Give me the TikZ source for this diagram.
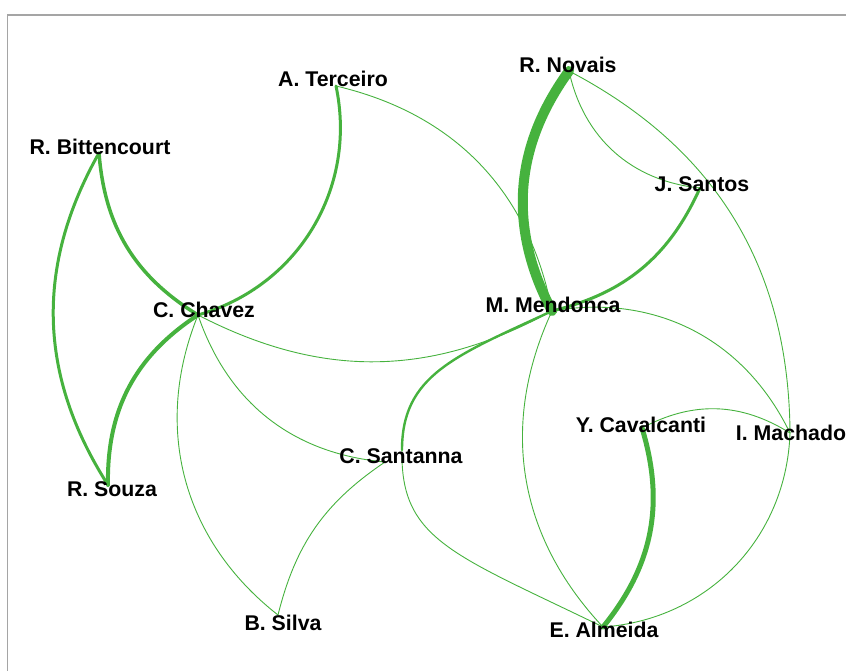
\documentclass[tikz,border=0pt]{standalone}
\usepackage{fontspec}
\setmainfont{Liberation Sans}
\definecolor{eg}{RGB}{70,178,62}
\definecolor{framegray}{RGB}{165,165,165}
\begin{document}
\begin{tikzpicture}[x=1pt,y=-1pt,
  lab/.style={font=\fontsize{21.3}{24}\selectfont\bfseries, anchor=base, inner sep=0pt, text=black},
  ed/.style={draw=eg, line width=#1, line cap=round},
  ed/.default=0.9pt]
\useasboundingbox (0,0) rectangle (846,671);
\draw[framegray, line width=1.5pt] (7.5,671) -- (7.5,15) -- (846,15);
% vertices
\coordinate (ter) at (336,86);
\coordinate (nov) at (569,71);
\coordinate (bit) at (99,153);
\coordinate (san) at (700,188);
\coordinate (cha) at (198,315);
\coordinate (men) at (552,311);
\coordinate (cav) at (642,428);
\coordinate (mac) at (790,433);
\coordinate (sta) at (385,462);
\coordinate (sou) at (108,485);
\coordinate (sil) at (278,615);
\coordinate (alm) at (603,627);
\coordinate (via) at (402,450);
% edges
\draw[ed=10pt] (nov) to[bend right=32] (men);
\draw[ed] (nov) to[bend right=36] (san);
\draw[ed] (nov) to[bend left=31] (mac);
\draw[ed=3pt] (san) to[bend left=26] (men);
\draw[ed=3pt] (ter) to[bend left=43] (cha);
\draw[ed] (ter) to[bend left=33] (men);
\draw[ed=3.5pt] (bit) to[bend right=27] (cha);
\draw[ed=3pt] (bit) to[bend right=31] (sou);
\draw[ed=4pt] (cha) to[bend right=29] (sou);
\draw[ed] (cha) to[bend right=28] (men);
\draw[ed] (cha) to[bend right=33] (sta);
\draw[ed] (cha) to[bend right=37] (sil);
\draw[ed] (sta) to[bend right=21] (sil);
\draw[ed=2.4pt] (men) .. controls (455,356) and (402,375) .. (via);
\draw[ed] (via) .. controls (400,540) and (453,554) .. (alm);
\draw[ed] (men) to[bend right=34] (alm);
\draw[ed] (men) to[bend left=37] (mac);
\draw[ed=5pt] (cav) to[bend left=28] (alm);
\draw[ed] (cav) to[bend left=30] (mac);
\draw[ed] (mac) to[bend left=42] (alm);
% labels
\node[lab] (terL) at (333,86.5) {A. Terceiro};
\node[lab] (novL) at (568,73) {R. Novais};
\node[lab] (bitL) at (100,155) {R. Bittencourt};
\node[lab] (sanL) at (702,192) {J. Santos};
\node[lab] (chaL) at (204,317) {C. Chavez};
\node[lab] (menL) at (553,312) {M. Mendonca};
\node[lab] (cavL) at (641,432) {Y. Cavalcanti};
\node[lab] (macL) at (791,440) {I. Machado};
\node[lab] (staL) at (401,463) {C. Santanna};
\node[lab] (souL) at (112,496) {R. Souza};
\node[lab] (silL) at (283,630) {B. Silva};
\node[lab] (almL) at (604,637) {E. Almeida};
\end{tikzpicture}
\end{document}
